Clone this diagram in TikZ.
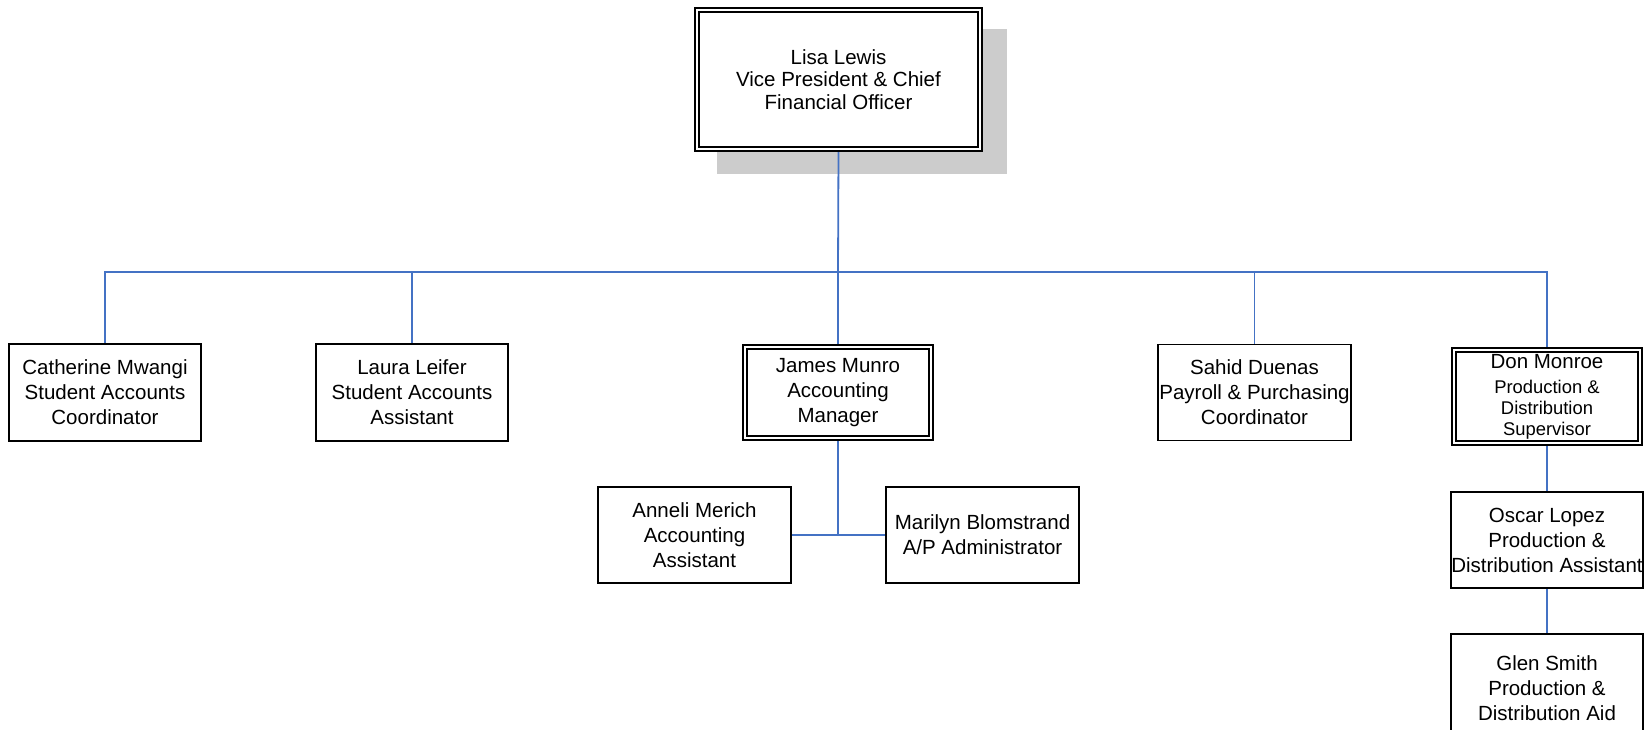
\documentclass[tikz,border=0pt]{standalone}
\usepackage{fontspec}
\setmainfont{Liberation Sans}
\definecolor{connblue}{RGB}{68,114,196}
\definecolor{shadowgray}{RGB}{204,204,204}
\pgfdeclarelayer{shadowlayer}
\pgfdeclarelayer{connlayer}
\pgfsetlayers{shadowlayer,connlayer,main}
\tikzset{
  box/.style={draw=black, line width=1.5pt, fill=white, rectangle, inner sep=0pt,
    align=center, font=\fontsize{20.5}{25}\selectfont},
  dbox/.style={box, double=white, double distance=2.6pt, line width=1.3pt},
  conn/.style={draw=connblue, line width=1.8pt}
}
\begin{document}
\begin{tikzpicture}[x=1pt,y=-1pt]
\useasboundingbox (0,0) rectangle (1644,730);
% top
\node[dbox, minimum width=283pt, minimum height=139pt, font=\fontsize{20.5}{22.5}\selectfont] (top) at (838.5,79.5)
  {Lisa Lewis\\Vice President \& Chief\\Financial Officer};
% level 2
\node[box, minimum width=192pt, minimum height=97pt] (cat) at (105,392.5)
  {Catherine Mwangi\\Student Accounts\\Coordinator};
\node[box, minimum width=192pt, minimum height=97pt] (lau) at (412,392.5)
  {Laura Leifer\\Student Accounts\\Assistant};
\node[dbox, minimum width=186pt, minimum height=91pt] (mgr) at (838,392.5)
  {James Munro\\Accounting\\Manager};
\node[box, minimum width=193pt, minimum height=96pt] (sah) at (1254.5,392.5)
  {Sahid Duenas\\Payroll \& Purchasing\\Coordinator};
\node[dbox, minimum width=186pt, minimum height=93pt, font=\fontsize{18.4}{21}\selectfont] (don) at (1547,396.5)
  {{\fontsize{20.5}{21}\selectfont Don Monroe}\\[4pt]
   Production \&\\
   Distribution\\
   Supervisor};
% level 3
\node[box, minimum width=193pt, minimum height=96pt] (ann) at (694.5,535)
  {Anneli Merich\\Accounting\\Assistant};
\node[box, minimum width=193pt, minimum height=96pt] (mar) at (982.5,535)
  {Marilyn Blomstrand\\A/P Administrator};
\node[box, minimum width=192pt, minimum height=96pt] (osc) at (1547,540)
  {Oscar Lopez\\Production \&\\Distribution Assistant};
\node[box, minimum width=192pt, minimum height=108pt] (gle) at (1547,688)
  {Glen Smith\\Production \&\\Distribution Aid};
% shadow
\begin{pgfonlayer}{shadowlayer}
  \fill[shadowgray] (717,29) rectangle (1007,174);
\end{pgfonlayer}
% connectors
\coordinate (bus) at (838,272);
\begin{pgfonlayer}{connlayer}
  \draw[conn] (top.south) -- (bus);
  \draw[conn] (cat.north) -- (cat.north |- bus) -- (don.north |- bus) -- (don.north);
  \draw[conn] (lau.north) -- (lau.north |- bus);
  \draw[conn] (mgr.north) -- (mgr.north |- bus);
  \draw[conn] (sah.north) -- (sah.north |- bus);
  \draw[conn] (mgr.south) -- (mgr.south |- ann.east);
  \draw[conn] (ann.east) -- (mar.west);
  \draw[conn] (don.south) -- (osc.north);
  \draw[conn] (osc.south) -- (gle.north);
\end{pgfonlayer}
\end{tikzpicture}
\end{document}
